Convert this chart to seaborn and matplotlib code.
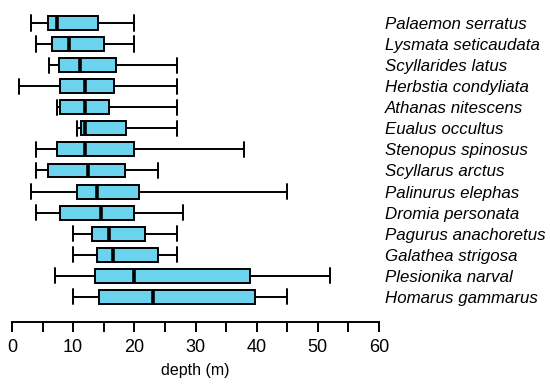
import pandas as pd
import numpy as np
import seaborn as sns
import matplotlib.pyplot as plt
from matplotlib.ticker import MultipleLocator

# species, top to bottom
species = ["Palaemon serratus", "Lysmata seticaudata", "Scyllarides latus",
           "Herbstia condyliata", "Athanas nitescens", "Eualus occultus",
           "Stenopus spinosus", "Scyllarus arctus", "Palinurus elephas",
           "Dromia personata", "Pagurus anachoretus", "Galathea strigosa",
           "Plesionika narval", "Homarus gammarus"]

# depth summary (m)
d_min = [3.1, 3.9, 6.0, 1.1, 7.4, 10.7, 3.9, 3.9, 3.1, 3.9, 10.0, 10.0, 7.1, 9.9]
d_q1 = [5.9, 6.5, 7.7, 7.9, 7.9, 11.3, 7.4, 5.9, 10.7, 7.9, 13.0, 13.9, 13.6, 14.3]
d_med = [7.4, 9.4, 11.1, 12.0, 12.0, 11.9, 12.0, 12.5, 13.9, 14.5, 15.9, 16.5, 19.9, 23.0]
d_q3 = [14.0, 15.0, 17.0, 16.7, 15.8, 18.6, 19.9, 18.5, 20.8, 19.9, 21.7, 23.9, 38.9, 39.7]
d_max = [19.9, 19.9, 26.9, 26.9, 26.9, 26.9, 38.0, 23.9, 44.9, 28.0, 26.9, 26.9, 52.0, 44.9]

# five values per species -> quartiles come out exactly, whiskers at min/max
rows = []
for i, sp in enumerate(species):
    for v in (d_min[i], d_q1[i], d_med[i], d_q3[i], d_max[i]):
        rows.append({"species": sp, "depth": v})
df = pd.DataFrame(rows)

sns.set_style("white")
plt.rcParams["font.family"] = ["Liberation Sans", "DejaVu Sans"]
plt.rcParams["text.color"] = "black"
plt.rcParams["axes.labelcolor"] = "black"
plt.rcParams["xtick.color"] = "black"
plt.rcParams["ytick.color"] = "black"

fig = plt.figure(figsize=(5.5, 3.87), dpi=100)
ax = fig.add_axes([12 / 550, 0.168, 367 / 550, 0.8053])

sns.boxplot(data=df, x="depth", y="species", order=species, whis=(0, 100),
            color="#6CD3EE", saturation=1, width=0.66, linecolor="black",
            linewidth=1.4, medianprops=dict(linewidth=2.6), capwidths=0.72,
            ax=ax)

ax.set_xlim(0, 60)
ax.set_ylim(14.19, -0.6)
ax.xaxis.set_major_locator(MultipleLocator(10))
ax.xaxis.set_minor_locator(MultipleLocator(5))
ax.tick_params(axis="x", which="both", bottom=True, direction="out", length=7,
               width=1.4, labelsize=13, pad=5, color="black",
               labelcolor="black")
ax.yaxis.tick_right()
ax.tick_params(axis="y", length=0, pad=4, labelsize=12.2, labelcolor="black")
for lab in ax.get_yticklabels():
    lab.set_fontstyle("italic")

for s in ["top", "left", "right"]:
    ax.spines[s].set_visible(False)
ax.spines["bottom"].set_linewidth(1.4)
ax.spines["bottom"].set_color("black")

ax.set_xlabel("depth (m)", fontsize=11.5, labelpad=5, color="black")
ax.set_ylabel("")

fig.savefig("out.png", dpi=100)
